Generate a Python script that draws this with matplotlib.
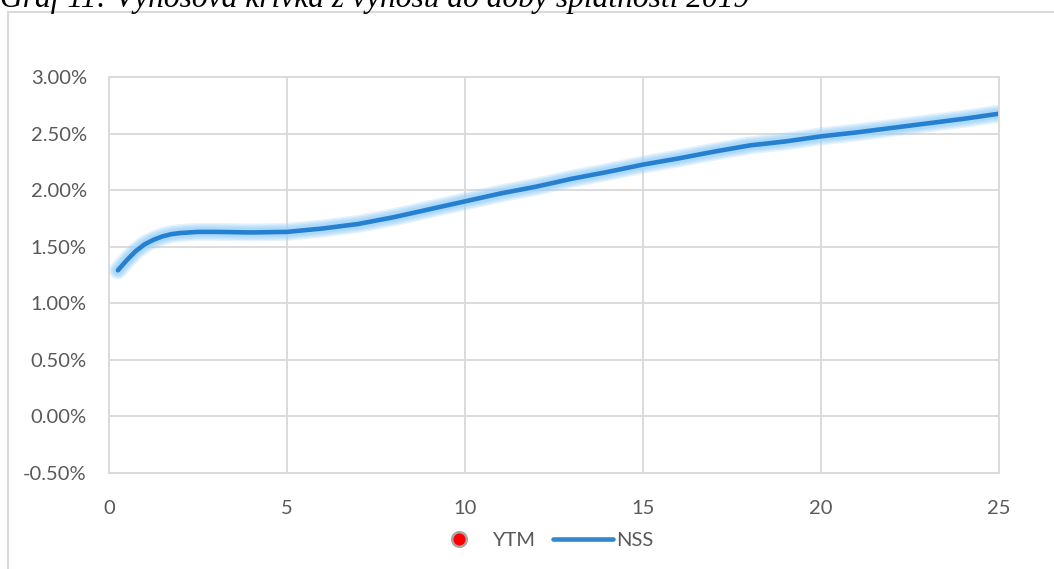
import matplotlib
matplotlib.use("Agg")
import matplotlib.pyplot as plt
from matplotlib.lines import Line2D
from matplotlib.patches import Rectangle
from matplotlib.ticker import FuncFormatter

# ---- data ----
title_text = "Graf 11: Výnosová křivka z výnosů do doby splatnosti 2019"
maturity = [0.25, 0.5, 0.75, 1.0, 1.25, 1.5, 1.75, 2.0, 2.5, 3.0, 4.0, 5.0, 6.0, 7.0, 8.0,
            9.0, 10.0, 11.0, 12.0, 13.0, 14.0, 15.0, 16.0, 17.0, 18.0, 19.0, 20.0,
            21.0, 22.0, 23.0, 24.0, 25.0]
nss = [1.29, 1.38, 1.46, 1.52, 1.56, 1.59, 1.61, 1.62, 1.63, 1.63, 1.625, 1.63, 1.66,
       1.70, 1.76, 1.83, 1.90, 1.97, 2.03, 2.10, 2.16, 2.225, 2.28, 2.34, 2.395,
       2.43, 2.475, 2.51, 2.55, 2.59, 2.63, 2.675]
ytm_x = []
ytm_y = []
x_ticks = [0, 5, 10, 15, 20, 25]
y_ticks = [-0.5, 0.0, 0.5, 1.0, 1.5, 2.0, 2.5, 3.0]
series_labels = ["YTM", "NSS"]

W, H = 1054, 569
fig = plt.figure(figsize=(W / 100, H / 100), dpi=100)
fig.patch.set_facecolor("white")

# outer chart frame
fig.patches.append(Rectangle((8 / W, -0.05), 1.2, 1 - 12 / H + 0.05, transform=fig.transFigure,
                             fill=False, edgecolor="#d9d9d9", linewidth=1.5, clip_on=False))

# caption at top (partially cut, as in the source)
fig.text(0 / W, 1 - 7 / H, title_text, family="Liberation Serif", style="italic",
         fontsize=22.7, color="black", ha="left", va="baseline")

ax = fig.add_axes([109 / W, 1 - 472.7 / H, (999 - 109) / W, (472.7 - 77) / H])
ax.set_xlim(0, 25)
ax.set_ylim(-0.5, 3.0)
ax.set_xticks(x_ticks)
ax.set_yticks(y_ticks)
ax.yaxis.set_major_formatter(FuncFormatter(lambda v, p: f"{v:.2f}%"))
ax.grid(True, color="#d9d9d9", linewidth=1.3)
ax.set_axisbelow(True)
for s in ax.spines.values():
    s.set_color("#d9d9d9")
    s.set_linewidth(1.3)
ax.tick_params(length=0, labelsize=14.5, colors="#595959")
ax.tick_params(axis="y", pad=16)
ax.tick_params(axis="x", pad=20)
for lab in ax.get_xticklabels() + ax.get_yticklabels():
    lab.set_family("Lato")

# glow
for lw, a in [(13, 0.25), (11, 0.3), (9, 0.35), (7, 0.45)]:
    ax.plot(maturity, nss, color="#9dd2fb", linewidth=lw, alpha=a,
            solid_capstyle="round", solid_joinstyle="round")
ax.plot(maturity, nss, color="#2580D0", linewidth=3.3, solid_capstyle="round",
        solid_joinstyle="round")
ax.plot(ytm_x, ytm_y, "o", color="red")

handles = [Line2D([], [], marker="o", linestyle="none", markersize=10.5,
                  markerfacecolor="#ff0000", markeredgecolor="#a6a6a6", markeredgewidth=1.8),
           Line2D([], [], color="#2F88D0", linewidth=3.3, solid_capstyle="round")]
leg = fig.legend(handles, series_labels, loc="center", ncol=2,
                 bbox_to_anchor=(541 / W, 1 - 540 / H), frameon=False,
                 prop={"family": "Lato", "size": 14.5}, labelcolor="#595959",
                 handlelength=3.0, handletextpad=0.15, columnspacing=0.9)

fig.savefig("out.png", dpi=100)
